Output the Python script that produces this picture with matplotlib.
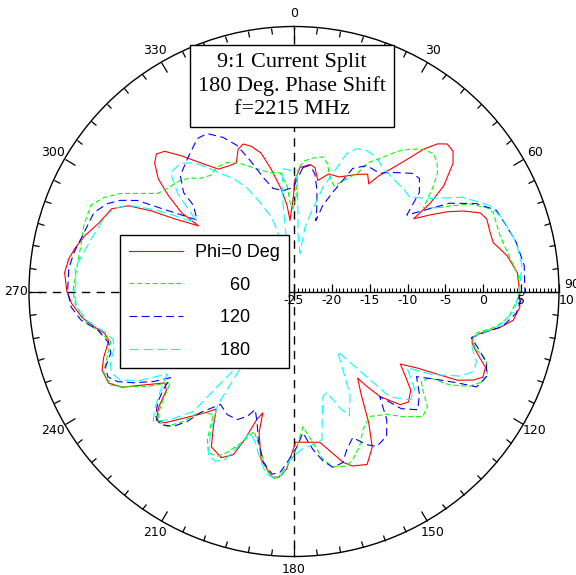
"""Polar gain pattern: 9:1 current split, 180 deg phase shift, f = 2215 MHz.

Four azimuth cuts (phi = 0, 60, 120, 180 deg) in dB, drawn IDL-style on a
-25 .. +10 dB polar grid with a single radial scale along 90 deg.
"""

import matplotlib.pyplot as plt
import numpy as np

plt.rcParams["axes.unicode_minus"] = False

# Pattern values: angle in degrees (clockwise from
# top), gain in dB.
RED_DEG = [
    0.5, 2.8, 7.2, 9.6, 12.1, 16.5, 21.4, 28.5, 32.1, 34.8, 36.2, 38.3,
    40.6, 42.3, 44.2, 46.1, 48.6, 51.1, 54.8, 57.0, 58.7, 60.7, 62.5, 64.5,
    67.1, 69.4, 73.3, 76.2, 80.5, 85.2, 90.0, 94.0, 97.5, 99.9, 102.2, 104.4,
    106.2, 108.6, 111.6, 114.4, 116.3, 118.5, 119.7, 121.8, 124.3, 127.5,
    130.2, 134.0, 136.8, 140.6, 142.4, 143.7, 146.7, 150.4, 153.3, 157.1,
    161.5, 163.9, 170.3, 174.5, 179.4, 182.4, 184.6, 186.7, 191.1, 193.9,
    194.4, 196.2, 198.5, 200.4, 203.6, 208.0, 210.8, 213.5, 216.4, 220.9,
    224.6, 226.9, 229.5, 232.3, 234.7, 238.4, 240.9, 243.7, 247.7, 250.9,
    255.2, 257.5, 259.8, 263.0, 266.9, 270.0, 274.7, 278.3, 281.1, 284.9,
    289.4, 294.4, 297.4, 299.5, 301.3, 304.5, 305.0, 307.3, 309.7, 312.7,
    315.0, 317.3, 320.3, 324.2, 328.3, 332.4, 335.8, 338.6, 341.0, 343.6,
    346.6, 349.4, 352.8, 355.4, 356.8, 359.6,
]
RED_DB = [
    -10.3, -8.6, -8.1, -8.4, -10.0, -8.8, -8.75, -7.4, -6.7, -7.7, -6.1, -4.4,
    -2.0, 0.4, 2.2, 3.1, 3.0, 2.0, -0.8, -3.5, -6.5, -4.3, -2.2, -0.3,
    1.7, 2.2, 2.05, 2.1, 3.55, 4.6, 4.8, 4.9, 4.2, 2.6, 0.5, -0.7,
    -0.5, 0.5, 2.2, 2.4, 1.4, -0.45, -2.7, -5.8, -8.0, -6.4,
    -4.8, -4.0, -4.5, -7.0, -9.1, -10.8, -8.9, -5.0, -2.0, -0.2,
    -0.7, -1.5, -4.8, -5.0, -5.1, -1.5, -0.4, -0.3, -2.4, -5.8,
    -8.45, -7.4, -4.3, -2.0, -1.05, -1.75, -4.2, -6.4, -5.05, -2.9,
    -0.65, -0.1, -1.5, -3.7, -4.1, -1.4, 1.0, 2.3, 2.4, 1.6,
    0.3, 0.6, 1.7, 3.2, 4.4, 5.0, 5.4, 5.05, 4.5, 3.6,
    2.3, 1.45, -0.4, -3.4, -6.5, -9.7, -6.9, -4.2, -1.7, 0.05,
    0.7, 0.2, -1.7, -4.1, -6.0, -6.3, -6.4, -4.8, -4.4, -5.0,
    -6.2, -8.55, -11.3, -13.6, -15.6, -12.5,
]

GREEN_DEG = [
    1.2, 1.9, 4.4, 8.1, 12.1, 14.9, 16.5, 20.7, 28.3, 29.8, 33.0, 36.4,
    39.3, 42.3, 45.4, 48.1, 50.4, 52.9, 55.1, 57.1, 59.7, 61.3, 63.6, 66.6,
    68.4, 74.9, 81.4, 85.9, 90.3, 96.7, 99.9, 102.8, 105.2, 107.7, 109.5,
    112.8, 115.6, 118.5, 121.0, 122.5, 125.3, 127.4, 130.8, 134.2, 139.0,
    143.0, 148.8, 153.5, 157.0, 160.7, 163.2, 167.5, 170.2, 172.9, 176.2,
    178.9, 180.3, 182.3, 185.5, 188.2, 190.4, 193.4, 195.9, 198.7, 202.5,
    205.0, 208.0, 210.4, 213.3, 218.3, 220.4, 223.1, 226.0, 228.2, 230.4,
    233.6, 237.0, 240.8, 243.0, 247.1, 251.2, 254.7, 257.9, 261.7, 266.5,
    270.0, 275.1, 282.3, 287.5, 293.0, 296.3, 299.5, 302.6, 305.7, 309.2,
    314.4, 317.5, 320.4, 324.2, 328.3, 332.6, 337.2, 341.8, 348.6, 353.3,
    356.2, 357.5, 359.3,
]
GREEN_DB = [
    -12.6, -8.8, -7.7, -7.2, -6.8, -7.6, -8.8, -10.1, -7.2, -5.4, -4.0, -2.0,
    -0.7, 0.4, 0.9, 0.4, -0.4, -1.9, -3.4, -4.6, -3.1, -1.45, 1.0, 2.8,
    3.3, 3.2, 3.9, 4.7, 4.9, 3.6, 2.1, -0.3, -0.7, 0.3, 1.9,
    2.7, 2.6, 1.3, -1.1, -3.8, -4.4, -3.6, -1.7, -1.3, -3.1,
    -4.7, -5.7, -4.6, -2.8, -1.5, -0.9, -1.3, -2.5, -4.9, -7.1,
    -4.5, -3.2, -1.9, 0.0, -0.9, -2.5, -4.5, -5.8, -4.1, -2.0,
    -1.0, -0.9, -2.4, -5.6, -4.6, -2.5, -0.6, -0.1, -1.0, -2.6,
    -4.7, -2.0, 0.8, 2.2, 2.3, 1.0, 0.1, 1.1, 2.8, 3.9,
    4.2, 3.9, 3.8, 4.1, 4.15, 3.0, 1.3, -0.95, -2.8, -3.45,
    -4.0, -4.7, -5.6, -6.1, -5.7, -5.8, -6.65, -7.8, -9.0, -9.2,
    -11.0, -13.2, -14.1,
]

BLUE_DEG = [
    4.1, 7.2, 10.0, 12.8, 15.2, 17.1, 18.5, 21.4, 25.5, 30.0, 36.0, 38.8,
    45.1, 48.0, 51.7, 55.9, 60.4, 64.2, 68.1, 72.7, 77.5, 83.5, 90.0, 92.1,
    95.5, 99.6, 101.9, 104.6, 107.5, 110.3, 113.9, 117.6, 119.3, 121.7,
    124.8, 129.4, 133.7, 137.5, 140.8, 144.1, 147.4, 151.9, 154.6, 158.1,
    161.5, 164.1, 167.5, 170.3, 173.2, 176.4, 178.9, 182.3, 184.4, 186.8,
    190.2, 193.6, 195.7, 198.2, 200.5, 203.9, 208.5, 213.1, 217.7, 219.4,
    221.8, 225.1, 227.9, 230.9, 233.1, 235.1, 237.3, 240.4, 242.9, 245.4,
    248.2, 251.5, 254.5, 258.9, 262.4, 266.0, 270.0, 275.9, 280.1, 285.7,
    291.6, 295.3, 297.7, 300.2, 301.7, 306.4, 310.6, 311.9, 315.6, 321.3,
    327.7, 331.2, 335.3, 338.7, 341.5, 344.9, 348.5, 353.8, 359.5,
]
BLUE_DB = [
    -8.6, -8.2, -9.2, -11.3, -13.5, -15.2, -13.0, -10.9, -7.0, -5.8, -5.7, -4.8,
    -2.9, -2.7, -3.9, -7.0, -1.4, 1.7, 3.8, 4.35, 5.05, 5.6, 5.5, 5.0,
    4.5, 2.9, 0.9, -0.8, 0.65, 2.1, 2.8, 2.2, -0.4, -2.9,
    -5.3, -3.55, -2.4, -4.0, -7.1, -4.1, -2.3, -1.8, -2.6, -4.2,
    -3.0, -1.5, -1.2, -2.3, -4.0, -6.3, -4.5, -2.4, -1.05, -0.7,
    -2.1, -4.9, -7.0, -8.6, -7.4, -6.5, -6.5, -7.2, -4.8, -2.8,
    -1.1, -0.1, -0.4, -1.8, -3.4, -5.1, -3.0, -0.6, 1.15, 2.05,
    1.8, 0.5, 0.4, 1.4, 3.4, 4.5, 4.9, 4.9, 4.5, 3.8,
    3.4, 2.2, 0.9, -1.1, -3.8, -9.1, -7.5, -5.4, -3.55, -2.5,
    -1.1, -1.2, -2.6, -4.3, -6.75, -9.4, -11.1, -11.6, -11.25,
]

CYAN_DEG = [
    1.5, 2.9, 3.9, 8.9, 9.7, 12.5, 14.1, 15.5, 17.5, 19.1, 20.9, 23.7,
    27.3, 31.7, 35.6, 39.5, 47.6, 50.8, 55.5, 60.8, 66.2, 70.6, 77.5, 83.4,
    90.1, 95.0, 99.5, 104.0, 108.0, 111.0, 114.0, 117.0, 121.0, 124.0,
    129.0, 133.0, 137.7, 144.0, 151.5, 156.0, 158.5, 162.0, 164.6, 167.6,
    169.3, 174.1, 177.0, 181.4, 183.4, 186.0, 188.7, 191.4, 194.5, 197.3,
    199.4, 202.3, 204.9, 207.5, 210.7, 214.0, 216.0, 217.5, 220.0, 224.0,
    227.3, 230.0, 233.0, 237.0, 240.0, 243.0, 246.0, 249.0, 252.0, 255.0,
    258.0, 262.0, 266.0, 270.0, 272.5, 276.1, 280.6, 285.7, 291.0, 294.8,
    297.4, 298.8, 300.7, 302.3, 303.8, 306.0, 310.0, 313.9, 318.4, 322.0,
    325.1, 328.0, 331.7, 335.6, 339.2, 342.6, 344.1, 346.0, 349.5, 353.0,
    354.5, 357.5, 359.5,
]
CYAN_DB = [
    -9.9, -14.7, -17.3, -19.9, -16.4, -14.0, -12.6, -10.7, -9.2, -7.7, -5.5, -4.4,
    -4.05, -4.2, -4.9, -5.1, -5.2, -5.3, -3.3, 0.5, 3.2, 4.15, 5.05, 5.3,
    4.75, 4.2, 2.5, -0.5, -0.2, 0.8, 1.0, -0.4, -3.7, -7.0,
    -4.5, -4.0, -6.2, -15.2, -9.5, -7.0, -8.5, -11.0, -10.6, -7.7,
    -5.1, -4.5, -4.2, -2.8, -0.8, -0.3, -0.6, -2.4, -4.5, -5.5,
    -3.6, -1.0, -0.3, -0.5, -3.4, -7.0, -16.0, -12.0, -4.3, -1.5,
    0.3, -1.0, -2.8, -5.0, -1.5, 0.8, 1.4, 1.0, 0.0, -0.3,
    0.6, 2.6, 3.8, 4.0, 3.8, 4.1, 3.25, 2.5, 1.9, 1.2,
    -0.25, -1.9, -4.0, -6.2, -8.1, -9.0, -5.0, -2.35, -2.4, -3.4,
    -5.0, -6.6, -8.0, -10.0, -12.4, -14.45, -15.9, -19.0, -21.0, -12.5,
    -8.7, -8.9, -9.2,
]

CUTS = [
    ("Phi=0 Deg", RED_DEG, RED_DB, "#ff0000", "-"),
    ("       60", GREEN_DEG, GREEN_DB, "#00ff00", (0, (4.5, 2.5))),
    ("     120", BLUE_DEG, BLUE_DB, "#0000ff", (0, (7, 4))),
    ("     180", CYAN_DEG, CYAN_DB, "#00ffff", (0, (8.5, 4))),
]

R_MIN, R_MAX = -25, 10
THETA_MAJOR = np.arange(0, 360, 30)
THETA_MINOR = np.arange(0, 360, 5)
R_MAJOR = np.arange(-25, 11, 5)
R_MINOR = np.arange(-25, 10.01, 0.5)
TITLE = "9:1 Current Split\n180 Deg. Phase Shift\nf=2215 MHz"

TICK_FONT = ["Liberation Sans Narrow", "DejaVu Sans"]

# layout, in reference pixels (576 x 575)
W, H = 576, 575
CX, CY, RAD = 294, 291.5, 265


def closed(deg, db):
    th = np.deg2rad(np.append(deg, deg[0]))
    return th, np.append(db, db[0])


def main():
    fig = plt.figure(figsize=(W / 100, H / 100), dpi=100)
    ax = fig.add_axes(
        [(CX - RAD) / W, 1 - (CY + RAD) / H, 2 * RAD / W, 2 * RAD / H],
        projection="polar",
    )
    ax.set_theta_zero_location("N")
    ax.set_theta_direction(-1)
    ax.set_rlim(R_MIN, R_MAX)
    ax.grid(False)
    ax.set_yticks([])
    ax.spines["polar"].set_linewidth(1.0)

    # 90 sits above the radial scale's "10", as in the original
    theta_labels = [str(a) if a != 90 else "90\n" for a in THETA_MAJOR]
    ax.set_xticks(np.deg2rad(THETA_MAJOR))
    ax.set_xticklabels(theta_labels, family=TICK_FONT, fontsize=9)
    ax.set_xticks(np.deg2rad(THETA_MINOR), minor=True)
    ax.tick_params(axis="x", which="both", top=True, bottom=False)
    ax.tick_params(axis="x", which="major", direction="in", length=8.5, width=0.9, pad=2.5)
    ax.tick_params(axis="x", which="minor", direction="in", length=4.5, width=0.9)

    # dashed cross-hair: 0, 180 and 270 deg
    for a in (0, 180, 270):
        ax.plot(np.deg2rad([a, a]), [R_MIN, R_MAX], color="black", lw=1.0,
                ls=(0, (6, 4.5)), zorder=1)

    for label, deg, db, color, ls in CUTS:
        th, r = closed(deg, db)
        ax.plot(th, r, color=color, ls=ls, lw=0.8, label=label, zorder=2)

    leg = ax.legend(
        loc="upper left", bbox_to_anchor=(120 / W, 1 - 235 / H),
        bbox_transform=fig.transFigure, borderaxespad=0, fancybox=False,
        framealpha=1, edgecolor="black", prop={"family": "Liberation Sans", "size": 13},
        handlelength=3.0, handletextpad=0.65, labelspacing=0.87, borderpad=0.5,
    )
    leg.get_frame().set_linewidth(1.0)

    # radial scale along 90 deg
    rax = fig.add_axes([CX / W, 1 - CY / H, RAD / W, 0.0001])
    rax.set_xlim(R_MIN, R_MAX)
    rax.patch.set_visible(False)
    for side in ("left", "right", "top"):
        rax.spines[side].set_visible(False)
    rax.spines["bottom"].set_linewidth(1.0)
    rax.set_yticks([])
    rax.set_xticks(R_MAJOR)
    rax.set_xticks(R_MINOR, minor=True)
    rax.set_xticklabels([str(v) for v in R_MAJOR], family=TICK_FONT, fontsize=9)
    rax.tick_params(axis="x", which="major", direction="in", length=6, width=0.9, pad=1.5)
    rax.tick_params(axis="x", which="minor", direction="in", length=3.2, width=0.8)
    rax.get_xticklabels()[-1].set_ha("left")

    fig.text(
        292 / W, 1 - 86 / H, TITLE, ha="center", va="center",
        family="Liberation Serif", fontsize=16, linespacing=1.3,
        bbox=dict(boxstyle="square,pad=0.35", fc="white", ec="black", lw=1.0),
    )

    fig.savefig("out.png", dpi=100)


if __name__ == "__main__":
    main()
